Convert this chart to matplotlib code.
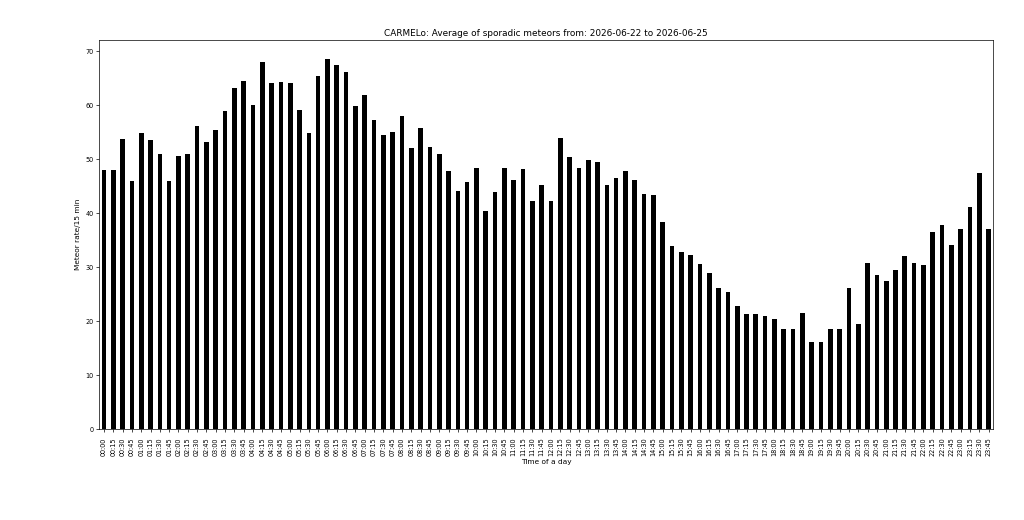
import matplotlib
matplotlib.use("Agg")
import matplotlib.pyplot as plt
import numpy as np

# time slots, one per 15 minutes
times = ["%02d:%02d" % (h, m) for h in range(24) for m in (0, 15, 30, 45)]

# average sporadic meteor rate per 15 min
rates = [
    48.0, 48.0, 53.7, 46.0, 54.8, 53.5, 51.0, 46.0,
    50.6, 51.0, 56.2, 53.2, 55.3, 58.8, 63.2, 64.5,
    60.0, 67.9, 64.0, 64.3, 64.1, 59.1, 54.8, 65.4,
    68.6, 67.5, 66.1, 59.8, 61.8, 57.3, 54.4, 55.0,
    58.0, 52.0, 55.8, 52.2, 50.9, 47.8, 44.1, 45.8,
    48.4, 40.4, 43.8, 48.4, 46.2, 48.2, 42.2, 45.2,
    42.2, 53.8, 50.4, 48.4, 49.8, 49.5, 45.2, 46.4,
    47.8, 46.2, 43.6, 43.4, 38.4, 33.8, 32.7, 32.2,
    30.6, 28.8, 26.2, 25.4, 22.8, 21.3, 21.3, 21.0,
    20.3, 18.5, 18.5, 21.5, 16.2, 16.1, 18.5, 18.5,
    26.1, 19.4, 30.8, 28.5, 27.5, 29.5, 32.0, 30.8,
    30.3, 36.5, 37.8, 34.0, 37.0, 41.1, 47.5, 37.0,
]

title = "CARMELo: Average of sporadic meteors from: 2026-06-22 to 2026-06-25"

fig = plt.figure(figsize=(10.24, 5.2), dpi=100)
ax = fig.add_axes([0.097, 0.175, 0.873, 0.748])

x = np.arange(len(times))
ax.bar(x, rates, width=0.5, color="black")
ax.set_xlim(-0.5, len(times) - 0.5)

ax.set_xticks(x)
ax.set_xticklabels(times, rotation=90, fontsize=4.7)
ax.tick_params(axis="y", labelsize=4.7, pad=2)
ax.tick_params(axis="x", pad=4)
ax.tick_params(length=2.2, width=0.5)
for s in ax.spines.values():
    s.set_linewidth(0.5)

ax.set_title(title, fontsize=6.4, pad=3)
ax.set_xlabel("Time of a day", fontsize=5.35, labelpad=2)
ax.set_ylabel("Meteor rate/15 min", fontsize=5.35, labelpad=3)

fig.savefig("out.png", dpi=100)
